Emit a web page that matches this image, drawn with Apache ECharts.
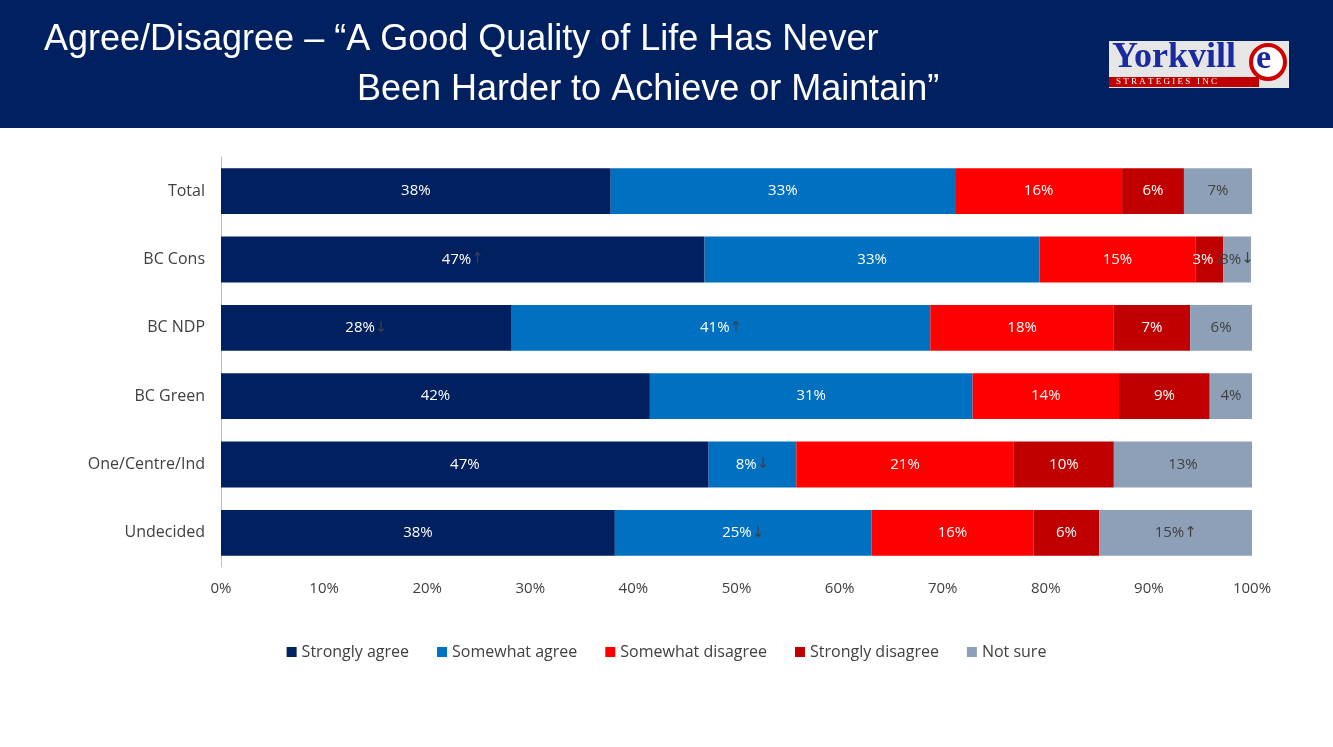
<!DOCTYPE html>
<html lang="en">
<head>
<meta charset="utf-8">
<style>
  html, body, #container { width: 100%; height: 100%; margin: 0; padding: 0; background: #fff; }
</style>
</head>
<body>
<div id="container"></div>
<script src="https://cdn.jsdelivr.net/npm/echarts@6/dist/echarts.min.js"></script>
<script>
var dom = document.getElementById('container');
var myChart = echarts.init(dom, null, { renderer: 'canvas' });

var groups = ['Total', 'BC Cons', 'BC NDP', 'BC Green', 'One/Centre/Ind', 'Undecided'];
// [value, label, arrow]
var data = {
  'Strongly agree':    [[37.8,'38%',''],[46.9,'47%','↑'],[28.2,'28%','↓'],[41.6,'42%',''],[47.3,'47%',''],[38.2,'38%','']],
  'Somewhat agree':    [[33.4,'33%',''],[32.5,'33%',''],[40.6,'41%','↑'],[31.3,'31%',''],[8.5,'8%','↓'],[24.9,'25%','↓']],
  'Somewhat disagree': [[16.2,'16%',''],[15.1,'15%',''],[17.8,'18%',''],[14.2,'14%',''],[21.1,'21%',''],[15.7,'16%','']],
  'Strongly disagree': [[6.0,'6%',''],[2.7,'3%','↓'],[7.4,'7%',''],[8.8,'9%',''],[9.7,'10%',''],[6.4,'6%','']],
  'Not sure':          [[6.6,'7%',''],[2.7,'3%','↓'],[6.0,'6%',''],[4.1,'4%',''],[13.4,'13%',''],[14.8,'15%','↑']]
};
var colors = {
  'Strongly agree': '#002060',
  'Somewhat agree': '#0070C0',
  'Somewhat disagree': '#FF0000',
  'Strongly disagree': '#C00000',
  'Not sure': '#8EA0B8'
};

var series = Object.keys(data).map(function (name) {
  var txt = name === 'Not sure' ? '#404040' : '#ffffff';
  return {
    name: name,
    type: 'bar',
    stack: 'all',
    barWidth: '67%',
    itemStyle: { color: colors[name] },
    label: {
      show: true,
      position: 'inside',
      fontFamily: 'Open Sans',
      fontSize: 15,
      color: txt,
      formatter: function (p) {
        var d = data[name][p.dataIndex];
        return d[2] ? d[1] + '{a|' + d[2] + '}' : d[1];
      },
      rich: { a: { color: '#404040', fontSize: 15, fontFamily: 'DejaVu Sans' } }
    },
    data: data[name].map(function (d) { return d[0]; })
  };
});

var option = {
  animation: false,
  graphic: [
    { type: 'rect', left: 0, top: 0, shape: { width: 1333, height: 128 }, style: { fill: '#002060' } },
    { type: 'text', left: 44, top: 22, style: { text: 'Agree/Disagree – “A Good Quality of Life Has Never', fill: '#fff', font: '36px "Liberation Sans", Arial' } },
    { type: 'text', left: 357, top: 72, style: { text: 'Been Harder to Achieve or Maintain”', fill: '#fff', font: '36px "Liberation Sans", Arial' } },
    { type: 'rect', left: 1109, top: 41, shape: { width: 180, height: 47 }, style: { fill: '#e6e6e6' } },
    { type: 'rect', left: 1109, top: 77, shape: { width: 150, height: 10 }, style: { fill: '#c00000' } },
    { type: 'text', left: 1112, top: 40, style: { text: 'Yorkvill', fill: '#1a2aa0', font: 'bold 36px "Liberation Serif", serif' } },
    { type: 'circle', shape: { cx: 1268, cy: 62, r: 17 }, style: { fill: '#fff', stroke: '#d00000', lineWidth: 4 } },
    { type: 'text', left: 1256, top: 42, style: { text: 'e', fill: '#1a2aa0', font: 'bold 34px "Liberation Serif", serif' } },
    { type: 'text', left: 1116, top: 77, style: { text: 'S T R A T E G I E S   I N C', fill: '#fff', font: '9px "Liberation Serif", serif' } }
  ],
  legend: {
    bottom: 82,
    left: 'center',
    itemWidth: 10,
    itemHeight: 10,
    itemGap: 28,
    icon: 'rect',
    textStyle: { fontFamily: 'Open Sans', fontSize: 16, color: '#404040' },
    data: Object.keys(data)
  },
  grid: { left: 221, right: 81, top: 157, bottom: 180 },
  xAxis: {
    type: 'value',
    min: 0, max: 100, interval: 10,
    axisLabel: { formatter: '{value}%', fontFamily: 'Open Sans', fontSize: 15, color: '#404040', margin: 14 },
    splitLine: { show: false },
    axisLine: { show: false },
    axisTick: { show: false }
  },
  yAxis: {
    type: 'category',
    inverse: true,
    data: groups,
    axisLine: { show: true, lineStyle: { color: '#bfbfbf' } },
    axisTick: { show: false },
    axisLabel: { fontFamily: 'Open Sans', fontSize: 16, color: '#404040', margin: 16 }
  },
  series: series
};
myChart.setOption(option);
window.addEventListener('resize', myChart.resize);
</script>
</body>
</html>
